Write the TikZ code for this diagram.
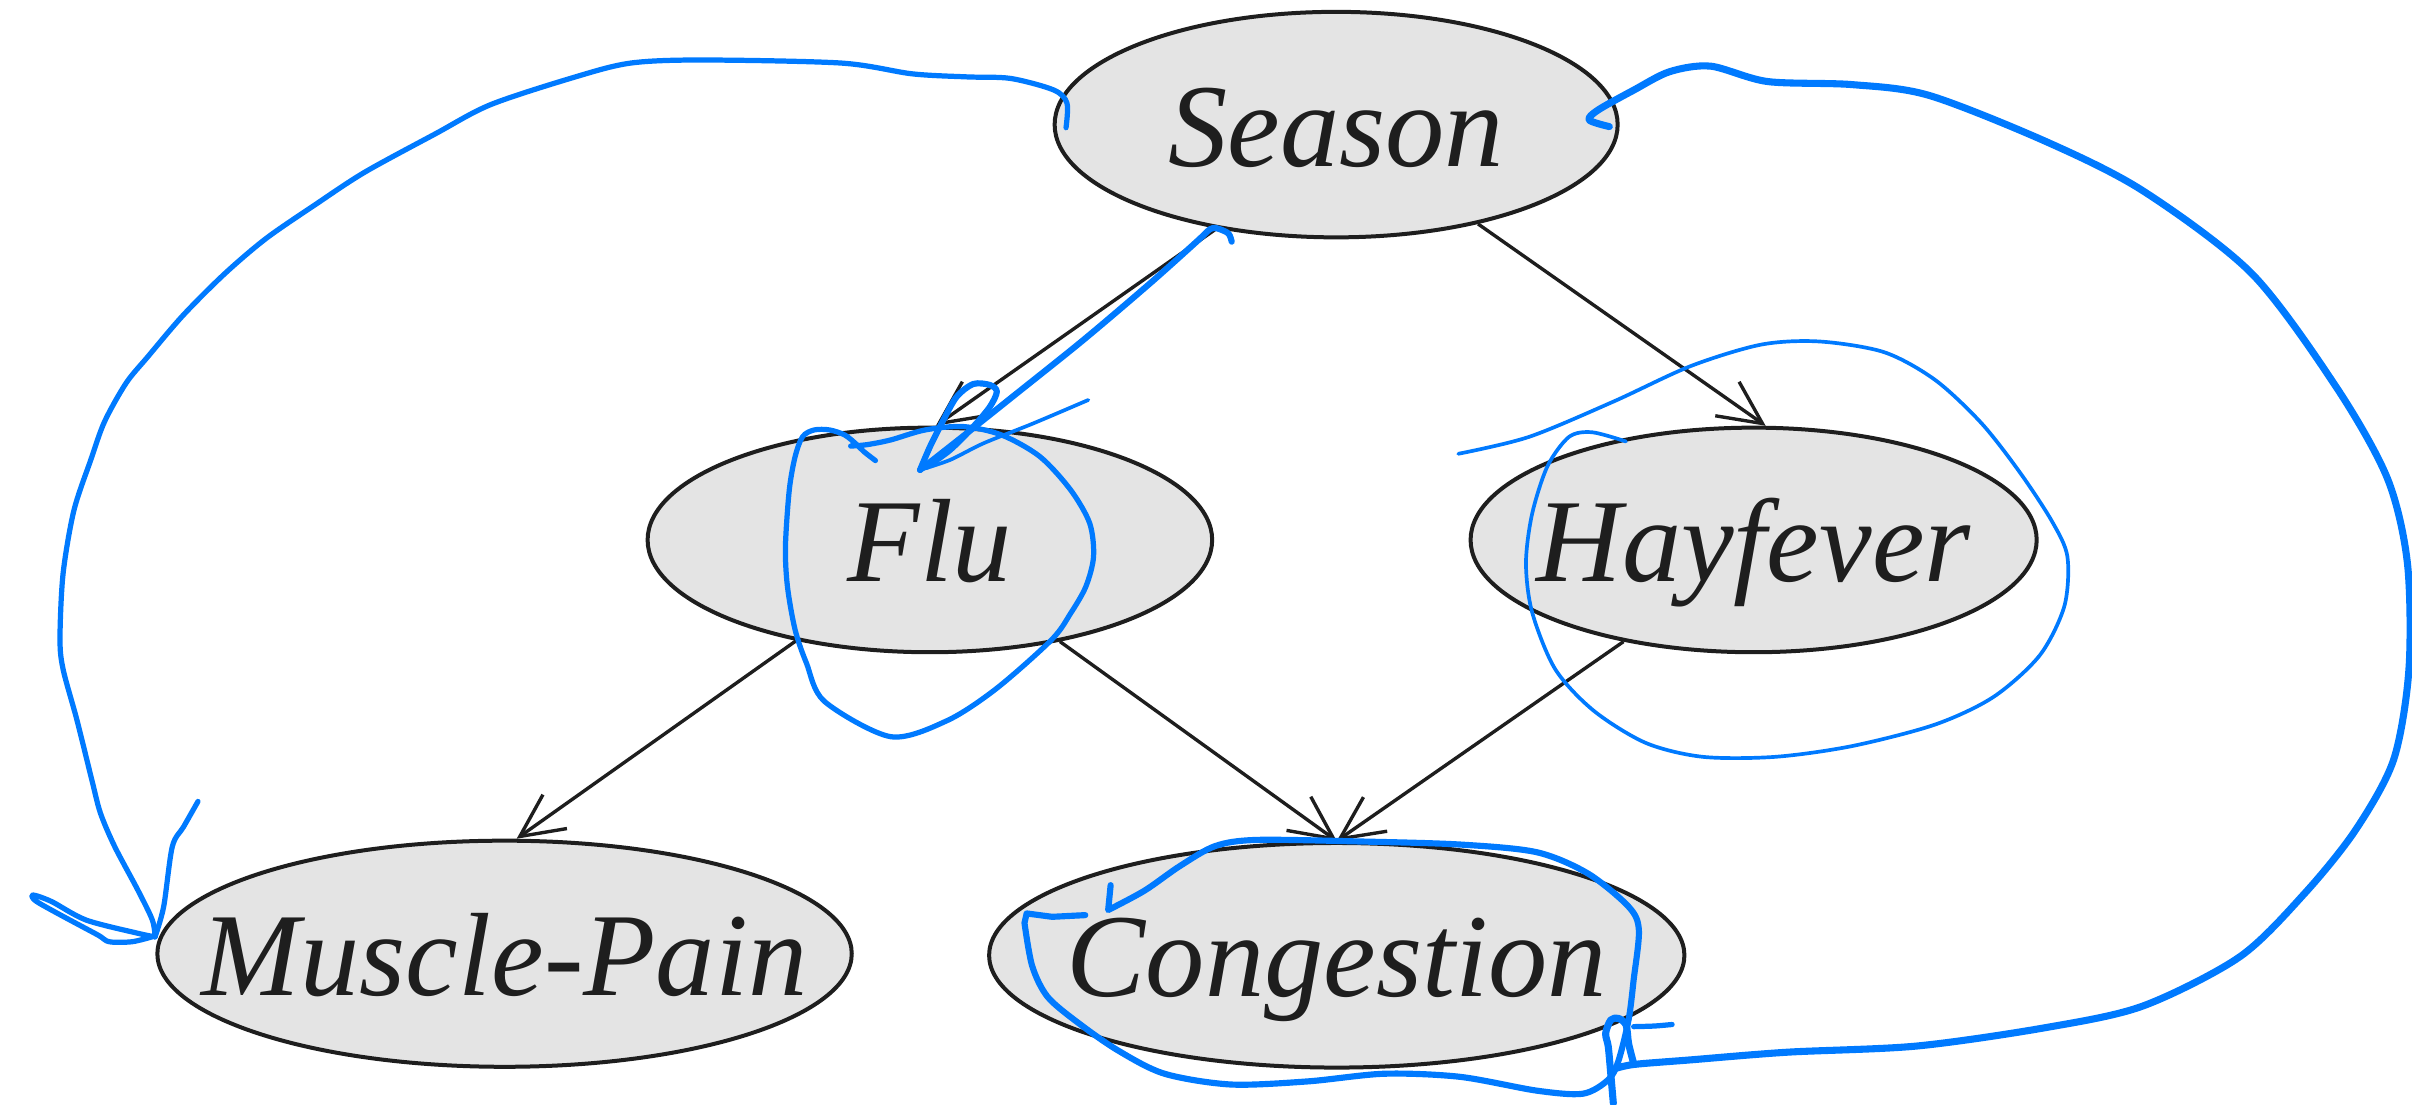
\documentclass[tikz,border=0pt]{standalone}
\usepackage{fontspec}
\setmainfont{Liberation Serif}
\usetikzlibrary{arrows.meta,shapes.geometric}
\definecolor{pen}{RGB}{0,122,255}
\definecolor{nodefill}{RGB}{228,228,228}
\definecolor{ink}{RGB}{30,30,30}

\begin{document}
\begin{tikzpicture}[x=0.5pt,y=-0.5pt,
  var/.style={ellipse, draw=ink, line width=1.3pt, fill=nodefill, inner sep=0pt,
    text height=27pt, text depth=0pt, text=ink,
    font=\fontsize{38.5}{46}\selectfont\itshape},
  link/.style={draw=ink, line width=1.1pt, -{Straight Barb[length=14pt,width=13.5pt]}},
  annthin/.style={draw=pen, line width=1.2pt, line cap=round, line join=round},
  annmid/.style={draw=pen, line width=1.7pt, line cap=round, line join=round},
  annbold/.style={draw=pen, line width=2pt, line cap=round, line join=round},
  annthick/.style={draw=pen, line width=2.3pt, line cap=round, line join=round},
  free/.style={smooth, tension=0.5}]

\useasboundingbox (0,0) rectangle (1568,717.7);

% variables of the network
\node[var, minimum width=183pt, minimum height=73.3pt] (season) at (868.6,81) {\makebox[0pt]{Season}};
\node[var, minimum width=183.5pt, minimum height=73pt] (flu) at (604.5,351) {\makebox[0pt]{Flu}};
\node[var, minimum width=184pt, minimum height=73pt] (hay) at (1140,351) {\makebox[0pt]{Hayfever}};
\node[var, minimum width=225.7pt, minimum height=73.5pt] (mp) at (328,620) {\makebox[0pt]{Muscle-Pain}};
\node[var, minimum width=226pt, minimum height=73pt] (cong) at (869,621) {\makebox[0pt]{Congestion}};

% dependencies
\draw[link] (season.221) -- (flu.87);
\draw[link] (season.-35) -- (hay.84);
\draw[link] (flu.217) -- (mp.84);
\draw[link] (flu.-38) -- (cong.north);
\draw[link] (hay.218) -- (cong.north);

% pen strokes: Season to Muscle-Pain
\draw[annmid] plot[free] coordinates {(693,83) (693.6,67) (685,58.5) (657,51) (629,50) (593,48)
  (547,41) (456,39) (410,41) (374,50) (319,68) (283,87) (237,112) (205,133) (173,155) (146,178)
  (119,205) (96,232) (82,249) (68,274) (59,299) (48,332) (41,373) (39,415) (41,435) (50,468)
  (59.7,507) (65.3,528.6) (74.6,550.4) (89.6,578.6) (99,598) (100.8,609)};
\draw[annmid] plot[free] coordinates {(100.8,609) (89.6,606.7) (56,598.1) (33.6,586.1) (21.5,581.8)
  (23,585.5) (37.3,593.7) (63.4,607.7) (71,612.2) (85.8,612.2) (98.9,609)};
\draw[annmid] plot[free] coordinates {(100.8,609) (106.4,589.4) (112,550.4) (119.4,537.4) (128.7,521)};

% pen strokes: Season to Flu
\draw[annbold] plot[free] coordinates {(800.7,157.1) (798.5,151.7) (791,148.4) (786.6,149) (778,157)
  (747.6,184.2) (704.3,221) (661,255.7) (628.4,281.7) (598.1,305.5)};
\draw[annbold] plot[free] coordinates {(598.1,305.5) (604.6,290.3) (613.3,273) (622,257.8) (632.8,249.6)
  (643.6,250.3) (648,254.6) (643.6,264.3) (632.8,277.3) (617.6,292.5) (602.4,303.4)};
\draw[annthin] plot[free] coordinates {(598.1,305.5) (617.6,299) (639.3,288.2) (671.8,275.2) (707.5,260)};

% pen strokes: ring round Flu
\draw[annmid] plot[free] coordinates {(569.1,299.4) (561.6,293.6) (556.7,288.8) (549.2,282.8)
  (539.3,279.5) (529.3,279.5) (521.8,283.8) (516.9,296.8) (513.1,318.5) (510.6,355.3) (511.9,381.3)
  (516.9,409.5) (524.3,431.2) (536,456) (579,478.9) (615.6,468.5) (647.5,447.8)
  (683.5,416) (696,398.7) (705.9,381.3) (710.9,361.8) (708.4,340.2) (696,318.5) (676,296.8)
  (651.2,282.8) (626.3,277.3) (601.4,279.5) (579,286) (564,289) (553,290)};

% pen strokes: ring round Hayfever
\draw[annthin] plot[free] coordinates {(948,295) (994,284) (1049,261) (1099,238) (1145,224) (1183,222)
  (1225,229) (1258,247) (1288,275) (1313,307) (1334,339) (1344,362) (1342,394) (1326,426) (1296,453)
  (1258,471) (1204,485) (1154,492) (1107,492) (1070,483) (1036,462) (1011,435) (996,398) (992,366)
  (996,334) (1006,303) (1020,284) (1035,281) (1057,287)};

% pen strokes: Season to Congestion
\draw[annthick] plot[free] coordinates {(1046.2,82.3) (1033.1,78) (1038.9,71.5) (1062.2,58.5)
  (1085.4,46.6) (1112,43) (1149,53) (1204,55) (1254,62) (1330,92) (1393,124) (1464,178) (1519,252)
  (1552,311) (1565,366) (1566,435) (1556,494) (1531,540) (1498,581) (1456,622) (1393,654) (1330,668)
  (1246,680) (1162,684) (1099,689) (1062,692) (1049,695)};
\draw[annthick] plot[free] coordinates {(1048.8,717.3) (1047.1,697.8) (1045.5,680.4) (1043.8,671.8)
  (1047.1,663.1) (1052.1,662) (1057.1,666.4) (1058.7,678.3) (1062,691.3)};
\draw[annmid] plot[free] coordinates {(1062,667.4) (1075.3,667) (1087,666)};

% pen strokes: ring round Congestion
\draw[annbold] (705.5,594.9) -- (684,596) -- (667.4,593.8) -- plot[free] coordinates {(666,600)
  (671,628) (681,648) (701,665) (727,683) (757,698) (800,705) (850,703) (900,698) (949,700)
  (999,709) (1029,711) (1045.4,702) (1052,690) (1058.7,663) (1062,637) (1065.4,604.6) (1058.7,589.4)
  (1032.2,567.8) (999,554) (949,549) (883,547) (817,546) (790,550) (767,563) (744,579) (720.4,591.6)}
  -- (722,575.4);

\end{tikzpicture}
\end{document}
